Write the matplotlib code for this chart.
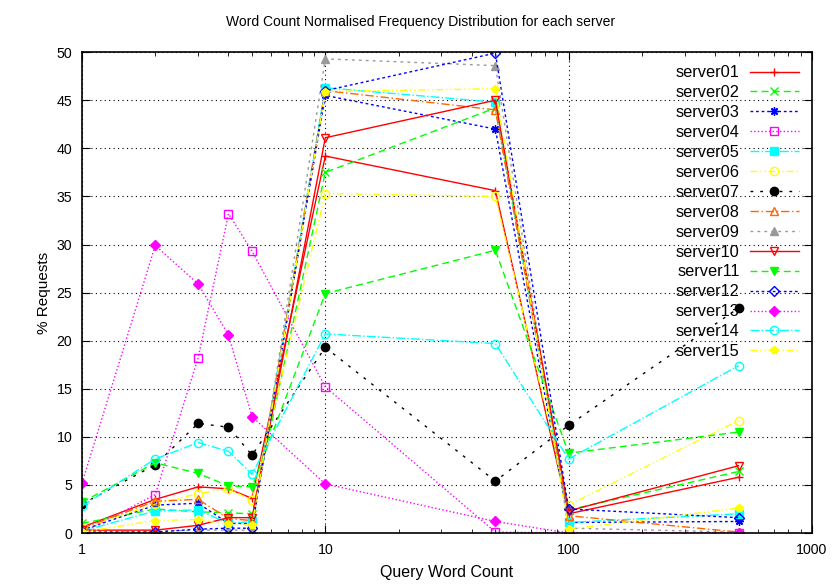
import matplotlib
matplotlib.use("Agg")
import matplotlib.pyplot as plt
from matplotlib.ticker import FixedLocator, NullFormatter

# Recuento de palabras de la consulta (eje x, logarítmico)
word_count = [1, 2, 3, 4, 5, 10, 50, 100, 500]

# % de peticiones por servidor
server01 = [0.6, 3.5, 4.8, 4.6, 3.6, 39.2, 35.6, 2.0, 5.8]
server02 = [1.0, 2.5, 2.2, 2.1, 2.0, 37.5, 44.2, 2.4, 6.4]
server03 = [0.3, 2.9, 3.1, 1.0, 1.0, 45.5, 42.0, 1.1, 1.2]
server04 = [0.0, 4.0, 18.2, 33.2, 29.3, 15.2, 0.1, 0.0, 0.0]
server05 = [0.2, 2.3, 2.4, 1.0, 1.2, 46.3, 44.8, 1.1, 2.0]
server06 = [0.5, 3.0, 4.1, 4.6, 3.4, 35.3, 35.0, 2.9, 11.7]
server07 = [3.0, 7.1, 11.4, 11.0, 8.1, 19.3, 5.4, 11.2, 23.4]
server08 = [0.5, 3.3, 3.5, 1.5, 1.3, 46.0, 44.0, 1.8, 0.1]
server09 = [0.0, 0.2, 0.3, 0.3, 0.3, 49.3, 48.6, 0.5, 0.1]
server10 = [0.3, 0.3, 0.8, 1.6, 1.6, 41.1, 45.0, 2.3, 7.0]
server11 = [3.2, 7.3, 6.2, 4.9, 4.8, 24.9, 29.4, 8.3, 10.5]
server12 = [0.1, 0.1, 0.4, 0.5, 0.5, 46.0, 49.9, 2.5, 1.6]
server13 = [5.2, 29.9, 25.9, 20.6, 12.1, 5.1, 1.2, 0.0, 0.0]
server14 = [2.8, 7.7, 9.4, 8.5, 6.1, 20.7, 19.7, 7.7, 17.4]
server15 = [0.1, 1.3, 1.4, 0.9, 0.8, 45.9, 46.2, 0.4, 2.6]

nombres = ["server%02d" % i for i in range(1, 16)]
series = [server01, server02, server03, server04, server05, server06, server07,
          server08, server09, server10, server11, server12, server13, server14,
          server15]

# estilo tipo gnuplot: (color, linestyle, marker, relleno)
estilos = [
    ("#ff0000", "-", "+", True),
    ("#00ff00", (0, (5, 3)), "x", True),
    ("#0000ff", (0, (2, 2)), (8, 2, 0), True),
    ("#ff00ff", ":", "s", False),
    ("#00ffff", "-.", "s", True),
    ("#ffff00", (0, (5, 2, 1, 2, 1, 2)), "o", False),
    ("#000000", (0, (2, 5)), "o", True),
    ("#ff6600", (0, (6, 2, 1, 2)), "^", False),
    ("#999999", (0, (2, 3)), "^", True),
    ("#ff0000", "-", "v", False),
    ("#00ff00", (0, (5, 3)), "v", True),
    ("#0000ff", (0, (2, 2)), "D", False),
    ("#ff00ff", ":", "D", True),
    ("#00ffff", "-.", "o", False),
    ("#ffff00", (0, (5, 2, 1, 2, 1, 2)), "p", True),
]

plt.rcParams['font.family'] = ['Liberation Sans', 'DejaVu Sans']

fig = plt.figure(figsize=(8.37, 5.86), dpi=100)
ax = fig.add_axes([0.098, 0.0904, 0.872, 0.8206])

for nombre, datos, (color, ls, mk, lleno) in zip(nombres, series, estilos):
    ms = 5 if mk in ("D",) else 6
    ax.plot(word_count, datos, color=color, linestyle=ls, linewidth=1,
            marker=mk, markersize=ms, markeredgewidth=1,
            markerfacecolor=color if lleno else "none",
            markeredgecolor=color, label=nombre)

ax.set_xscale("log")
ax.set_xlim(1, 1000)
ax.set_ylim(0, 50)
ax.set_xticks([1, 10, 100, 1000])
ax.set_xticklabels(["1", "10", "100", "1000"])
ax.set_yticks(range(0, 51, 5))
ax.xaxis.set_minor_locator(FixedLocator(
    [m * 10 ** e for e in range(0, 3) for m in range(2, 10)]))
ax.xaxis.set_minor_formatter(NullFormatter())

ax.tick_params(which="both", direction="in", top=True, right=True,
               labelsize=10.2, pad=7)
ax.tick_params(which="major", length=6)
ax.tick_params(which="minor", length=3)
ax.grid(True, which="major", color="black", linestyle=(0, (1, 3)), linewidth=0.8)
for s in ax.spines.values():
    s.set_linewidth(1.2)

# título centrado en la figura, como en gnuplot
fig.text(0.503, 1 - 22 / 586, "Word Count Normalised Frequency Distribution for each server",
         fontsize=10, ha="center", va="center")
ax.set_xlabel("Query Word Count", fontsize=11.5, labelpad=6)
ax.set_ylabel("% Requests", fontsize=11)

ax.legend(loc="upper right", frameon=False, markerfirst=False, fontsize=11.8,
          handlelength=3.0, labelspacing=0.3, borderaxespad=0.4,
          handletextpad=0.6)

fig.savefig("out.png", dpi=100)
